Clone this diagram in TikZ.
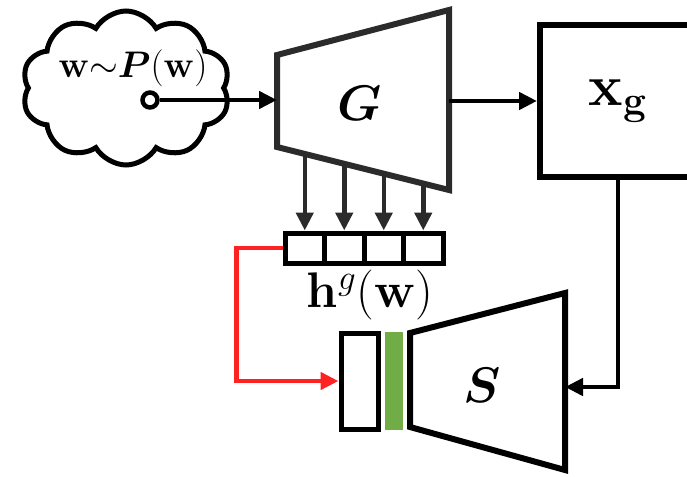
\RequirePackage{fix-cm}
\documentclass[tikz,border=0pt]{standalone}
\usepackage{amsmath}
\usepackage{bm}
\usetikzlibrary{arrows.meta,positioning,calc,shapes.symbols,shadows}
\definecolor{arrred}{HTML}{FF2222}
\definecolor{bargreen}{HTML}{70AD47}
\definecolor{netgray}{HTML}{2B2B2B}

\begin{document}
\begin{tikzpicture}[
  x=1pt,y=-1pt,
  >={Triangle[length=18pt,width=17pt]},
  net/.style={draw=netgray, line width=6pt, line join=miter, fill=white,
    drop shadow={shadow xshift=2.5pt, shadow yshift=-3pt, opacity=0.25}},
  xbox/.style={draw=black, line width=6pt, fill=white, minimum width=156pt, minimum height=152pt,
    inner sep=0pt, font=\fontsize{58}{58}\selectfont},
  cell/.style={draw=black, line width=5pt, fill=white, minimum width=39.5pt, minimum height=30pt, inner sep=0pt},
  feat/.style={draw=black, line width=5pt, fill=white, minimum width=37pt, minimum height=96pt, inner sep=0pt},
  gbar/.style={fill=bargreen, minimum width=18pt, minimum height=98pt, inner sep=0pt},
  lbl/.style={font=\fontsize{50}{50}\selectfont, inner sep=0pt},
  arr/.style={->, line width=4.5pt, draw=black},
  netarr/.style={->, line width=4.5pt, draw=netgray},
  redarr/.style={->, line width=4.5pt, draw=arrred}
]
\clip (0,0) rectangle (687,476);
\fill[white] (0,0) rectangle (687,476);

% noise source
\node[cloud, draw=black, line width=5pt, cloud puffs=10, cloud puff arc=120, aspect=1.35,
  minimum width=208pt, minimum height=154pt] (cloud) at (126,88) {};
\node[lbl, font=\fontsize{37}{37}\selectfont] (wtxt) at (133,68)
  {$\mathbf{w}\mathord{\sim}\bm{P}(\mathbf{w})$};
\node[circle, draw=black, line width=4.5pt, fill=white, minimum size=15pt, inner sep=0pt] (wdot) at (150,100) {};

% generator G
\coordinate (Gtl) at (277,55);
\coordinate (Gtr) at (449,10);
\coordinate (Gbr) at (449,190);
\coordinate (Gbl) at (277,147);
\draw[net] (Gtl) -- (Gtr) -- (Gbr) -- (Gbl) -- cycle;
\node[lbl] (Glab) at (360,103) {$\bm{G}$};
\draw[arr] (wdot.east) -- (wdot -| Gtl);

% generated image
\node[xbox] (xg) at (618,101) {$\mathbf{x}_{\mathbf{g}}$};
\draw[arr] (Gtr |- xg.west) -- (xg.west);

% hidden features h^g(w)
\foreach \i/\x/\f in {1/304.75/0.161, 2/344.25/0.391, 3/383.75/0.621, 4/423.25/0.852} {
  \node[cell] (h\i) at (\x,248) {};
  \coordinate (g\i) at ($(Gbl)!\f!(Gbr)$);
  \draw[netarr] (h\i.north |- g\i) -- (h\i.north);
}
\node[lbl, font=\fontsize{50}{50}\selectfont] (hlab) at (370,295) {$\mathbf{h}^{g}(\mathbf{w})$};

% student S
\coordinate (Stl) at (410,333);
\coordinate (Str) at (565,293);
\coordinate (Sbr) at (565,470);
\coordinate (Sbl) at (410,427);
\draw[net, draw=black] (Stl) -- (Str) -- (Sbr) -- (Sbl) -- cycle;
\node[lbl] (Slab) at (482,385) {$\bm{S}$};
\coordinate (Sin) at (565,387);
\node[feat] (feat) at (359.5,381) {};
\node[gbar] (bar) at (394,381) {};

\draw[arr] (xg.south) |- (Sin);
\draw[redarr] (h1.west) -- ++(-46,0) |- (feat.west);

\end{tikzpicture}
\end{document}
